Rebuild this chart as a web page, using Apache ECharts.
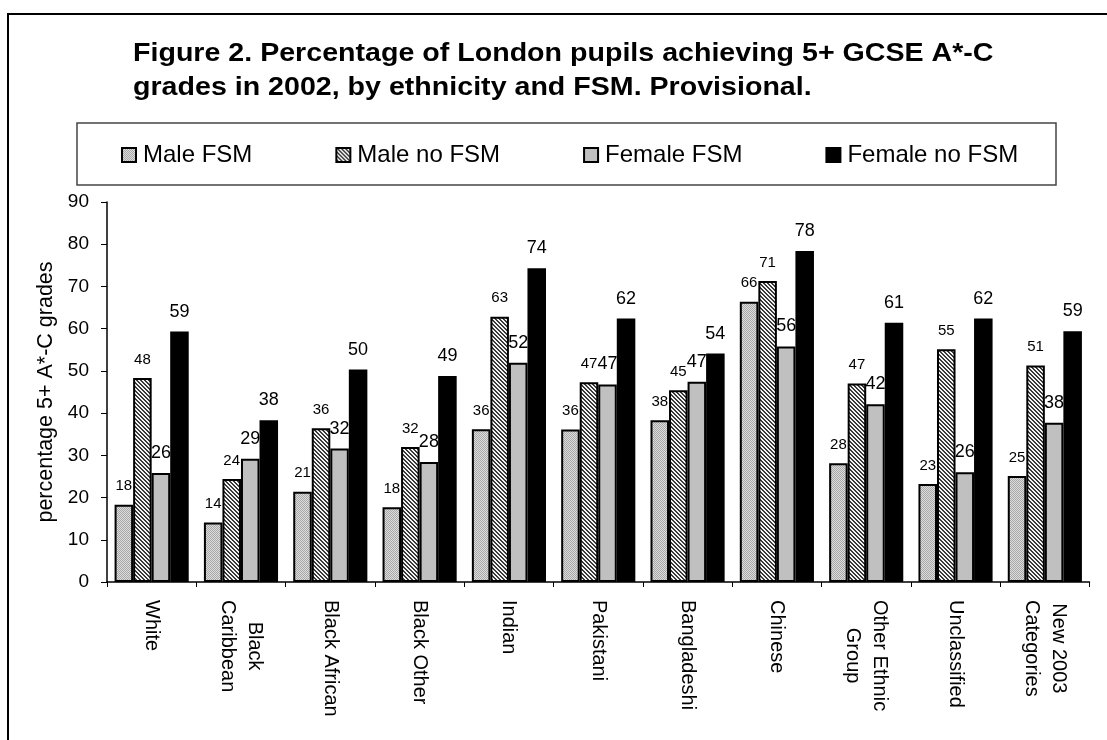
<!DOCTYPE html>
<html>
<head>
<meta charset="utf-8">
<script src="https://cdn.jsdelivr.net/npm/echarts@6/dist/echarts.min.js"></script>
<style>
  html, body { margin: 0; padding: 0; background: #fff; }
  #chart { width: 1107px; height: 740px; }
</style>
</head>
<body>
<div id="chart"></div>
<script>
// ---- data ----
const categories = ['White', 'Black\nCaribbean', 'Black African', 'Black Other', 'Indian', 'Pakistani',
  'Bangladeshi', 'Chinese', 'Other Ethnic\nGroup', 'Unclassified', 'New 2003\nCategories'];
const seriesNames = ['Male FSM', 'Male no FSM', 'Female FSM', 'Female no FSM'];
const maleFSM     = [18.3, 14.1, 21.4, 17.7, 36.2, 36.1, 38.3, 66.4, 28.1, 23.2, 25.1];
const maleNoFSM   = [48.3, 24.4, 36.4, 32.0, 62.8, 47.3, 45.4, 71.3, 47.0, 55.1, 51.3];
const femaleFSM   = [25.8, 29.2, 31.6, 28.4, 51.9, 46.8, 47.4, 55.8, 42.1, 26.0, 37.7];
const femaleNoFSM = [59.3, 38.3, 50.3, 48.8, 74.3, 62.4, 54.1, 78.4, 61.4, 62.4, 59.4];
const yTicks = { min: 0, max: 90, interval: 10 };
const titleText = 'Figure 2. Percentage of London pupils achieving 5+ GCSE A*-C\ngrades in 2002, by ethnicity and FSM. Provisional.';
const yAxisName = 'percentage 5+ A*-C grades';

// ---- fill patterns ----
function makePattern(size, draw) {
  const c = document.createElement('canvas');
  c.width = size; c.height = size;
  const ctx = c.getContext('2d');
  draw(ctx);
  return { image: c, repeat: 'repeat' };
}
const dotPattern = makePattern(2, ctx => {
  ctx.fillStyle = '#dcdcdc'; ctx.fillRect(0, 0, 2, 2);
  ctx.fillStyle = '#a8a8a8'; ctx.fillRect(0, 0, 1, 1); ctx.fillRect(1, 1, 1, 1);
});
const hatchPattern = makePattern(4, ctx => {
  ctx.fillStyle = '#f4f4f4'; ctx.fillRect(0, 0, 4, 4);
  ctx.fillStyle = '#3a3a3a';
  for (let i = 0; i < 4; i++) { ctx.fillRect(i, i, 1, 1); ctx.fillRect((i + 1) % 4, i, 1, 1); }
});

const FONT = '"Liberation Sans", Arial, sans-serif';
const fills = [dotPattern, hatchPattern, '#c0c0c0', '#000000'];
const labelSizes = [15, 15, 18, 18];
const values = [maleFSM, maleNoFSM, femaleFSM, femaleNoFSM];

const chart = echarts.init(document.getElementById('chart'), null, { renderer: 'canvas' });

const option = {
  animation: false,
  backgroundColor: '#fff',
  textStyle: { fontFamily: FONT },
  graphic: [
    { type: 'rect', shape: { x: 8, y: 14, width: 1200, height: 800 },
      style: { fill: 'none', stroke: '#000', lineWidth: 2 }, silent: true },
    { type: 'rect', shape: { x: 77, y: 123, width: 979, height: 62 },
      style: { fill: 'none', stroke: '#444', lineWidth: 1.5 }, silent: true },
    { type: 'text', x: 133, y: 37, scaleX: 1.1, silent: true,
      style: { text: titleText, fill: '#000', fontFamily: FONT, fontSize: 26, fontWeight: 'bold',
               lineHeight: 34, textAlign: 'left', textVerticalAlign: 'top' } }
  ],
  legend: {
    data: seriesNames,
    left: 121, top: 143, padding: 0,
    itemWidth: 14, itemHeight: 14, itemGap: 83,
    icon: 'rect',
    textStyle: { fontFamily: FONT, fontSize: 24, color: '#000', padding: [0, 0, 0, 2] }
  },
  grid: { left: 107, right: 17.5, top: 202, bottom: 158, containLabel: false },
  xAxis: {
    type: 'category',
    data: categories,
    axisLine: { lineStyle: { color: '#000', width: 1.5 } },
    axisTick: { show: true, length: 5, lineStyle: { color: '#000', width: 1 } },
    axisLabel: {
      rotate: -90, margin: 18, interval: 0,
      fontFamily: FONT, fontSize: 20, color: '#000', lineHeight: 27,
      formatter: v => v.split('\n').map(l => '{c|' + l + '}').join('\n'),
      rich: { c: { align: 'center', fontFamily: FONT, fontSize: 20, color: '#000', lineHeight: 27 } }
    }
  },
  yAxis: {
    type: 'value',
    min: yTicks.min, max: yTicks.max, interval: yTicks.interval,
    name: yAxisName, nameLocation: 'middle', nameGap: 47, nameRotate: 90,
    nameTextStyle: { fontFamily: FONT, fontSize: 21.5, color: '#000' },
    axisLine: { show: true, lineStyle: { color: '#000', width: 1.5 } },
    axisTick: { show: true, length: 6, lineStyle: { color: '#000', width: 1 } },
    splitLine: { show: false },
    axisLabel: { fontFamily: FONT, fontSize: 19, color: '#000', margin: 18 }
  },
  series: seriesNames.map((name, i) => ({
    name, type: 'bar',
    data: values[i],
    barGap: '0%', barCategoryGap: '17%',
    itemStyle: { color: fills[i], borderColor: '#000', borderWidth: 2 },
    label: {
      show: true, position: 'top', distance: 11,
      fontFamily: FONT, fontSize: labelSizes[i], color: '#000',
      formatter: p => String(Math.round(p.value))
    }
  }))
};
chart.setOption(option);
</script>
</body>
</html>
